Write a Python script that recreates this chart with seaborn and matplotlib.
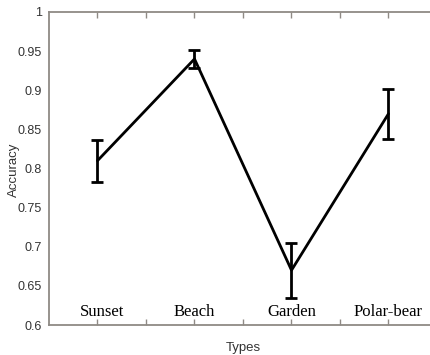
import matplotlib
matplotlib.use("Agg")
import matplotlib.pyplot as plt
import seaborn as sns
import pandas as pd
import numpy as np

categories = ["Sunset", "Beach", "Garden", "Polar-bear"]
accuracy = [0.810, 0.940, 0.670, 0.870]
err_low = [0.783, 0.929, 0.635, 0.838]
err_high = [0.836, 0.951, 0.705, 0.902]
yticks = [0.6, 0.65, 0.7, 0.75, 0.8, 0.85, 0.9, 0.95, 1]
ytick_labels = ["0.6", "0.65", "0.7", "0.75", "0.8", "0.85", "0.9", "0.95", "1"]

sns.set_style("white")
plt.rcParams["font.family"] = ["Liberation Sans", "DejaVu Sans"]

df = pd.DataFrame({"pos": np.arange(1, len(categories) + 1), "acc": accuracy,
                   "lo": err_low, "hi": err_high, "cat": categories})

fig = plt.figure(figsize=(4.31, 3.55), dpi=100)
W, H = 431, 355
ax = fig.add_axes([49 / W, (H - 325) / H, 388 / W, 313 / H])

sns.lineplot(data=df, x="pos", y="acc", color="black", linewidth=2, ax=ax,
             errorbar=None)
ax.errorbar(df["pos"], df["acc"],
            yerr=[df["acc"] - df["lo"], df["hi"] - df["acc"]],
            fmt="none", ecolor="black", elinewidth=2, capsize=4, capthick=2)

for p, c in zip(df["pos"], df["cat"]):
    dx = 0.05 if c == "Sunset" else 0.0
    ax.text(p + dx, 0.607, c, ha="center", va="bottom",
            family=["Liberation Serif", "DejaVu Serif"], fontsize=12,
            color="#000000")

ax.set_xlim(0.5, 4.5)
ax.set_ylim(0.6, 1.0)
ax.set_xticks(np.arange(1, 4.01, 0.5))
ax.set_xticklabels([""] * 7)
ax.set_yticks(yticks)
ax.set_yticklabels(ytick_labels)

spine_col = "#8f8a85"
for s in ["left", "bottom", "top"]:
    ax.spines[s].set_color(spine_col)
    ax.spines[s].set_linewidth(1.3)
ax.spines["right"].set_visible(False)

ax.tick_params(axis="x", direction="in", length=4, width=1, color=spine_col,
               top=True, bottom=True)
ax.tick_params(axis="y", direction="out", length=3, width=1, color=spine_col,
               labelsize=9, labelcolor="#333333", pad=2)

ax.set_xlabel("Types", fontsize=9.5, color="#333333", labelpad=8.5)
ax.set_ylabel("")
fig.text(14 / W, 1 - 170 / H, "Accuracy", rotation=90, ha="center",
         va="center", fontsize=9.5, color="#333333")

fig.savefig("out.png", dpi=100)
